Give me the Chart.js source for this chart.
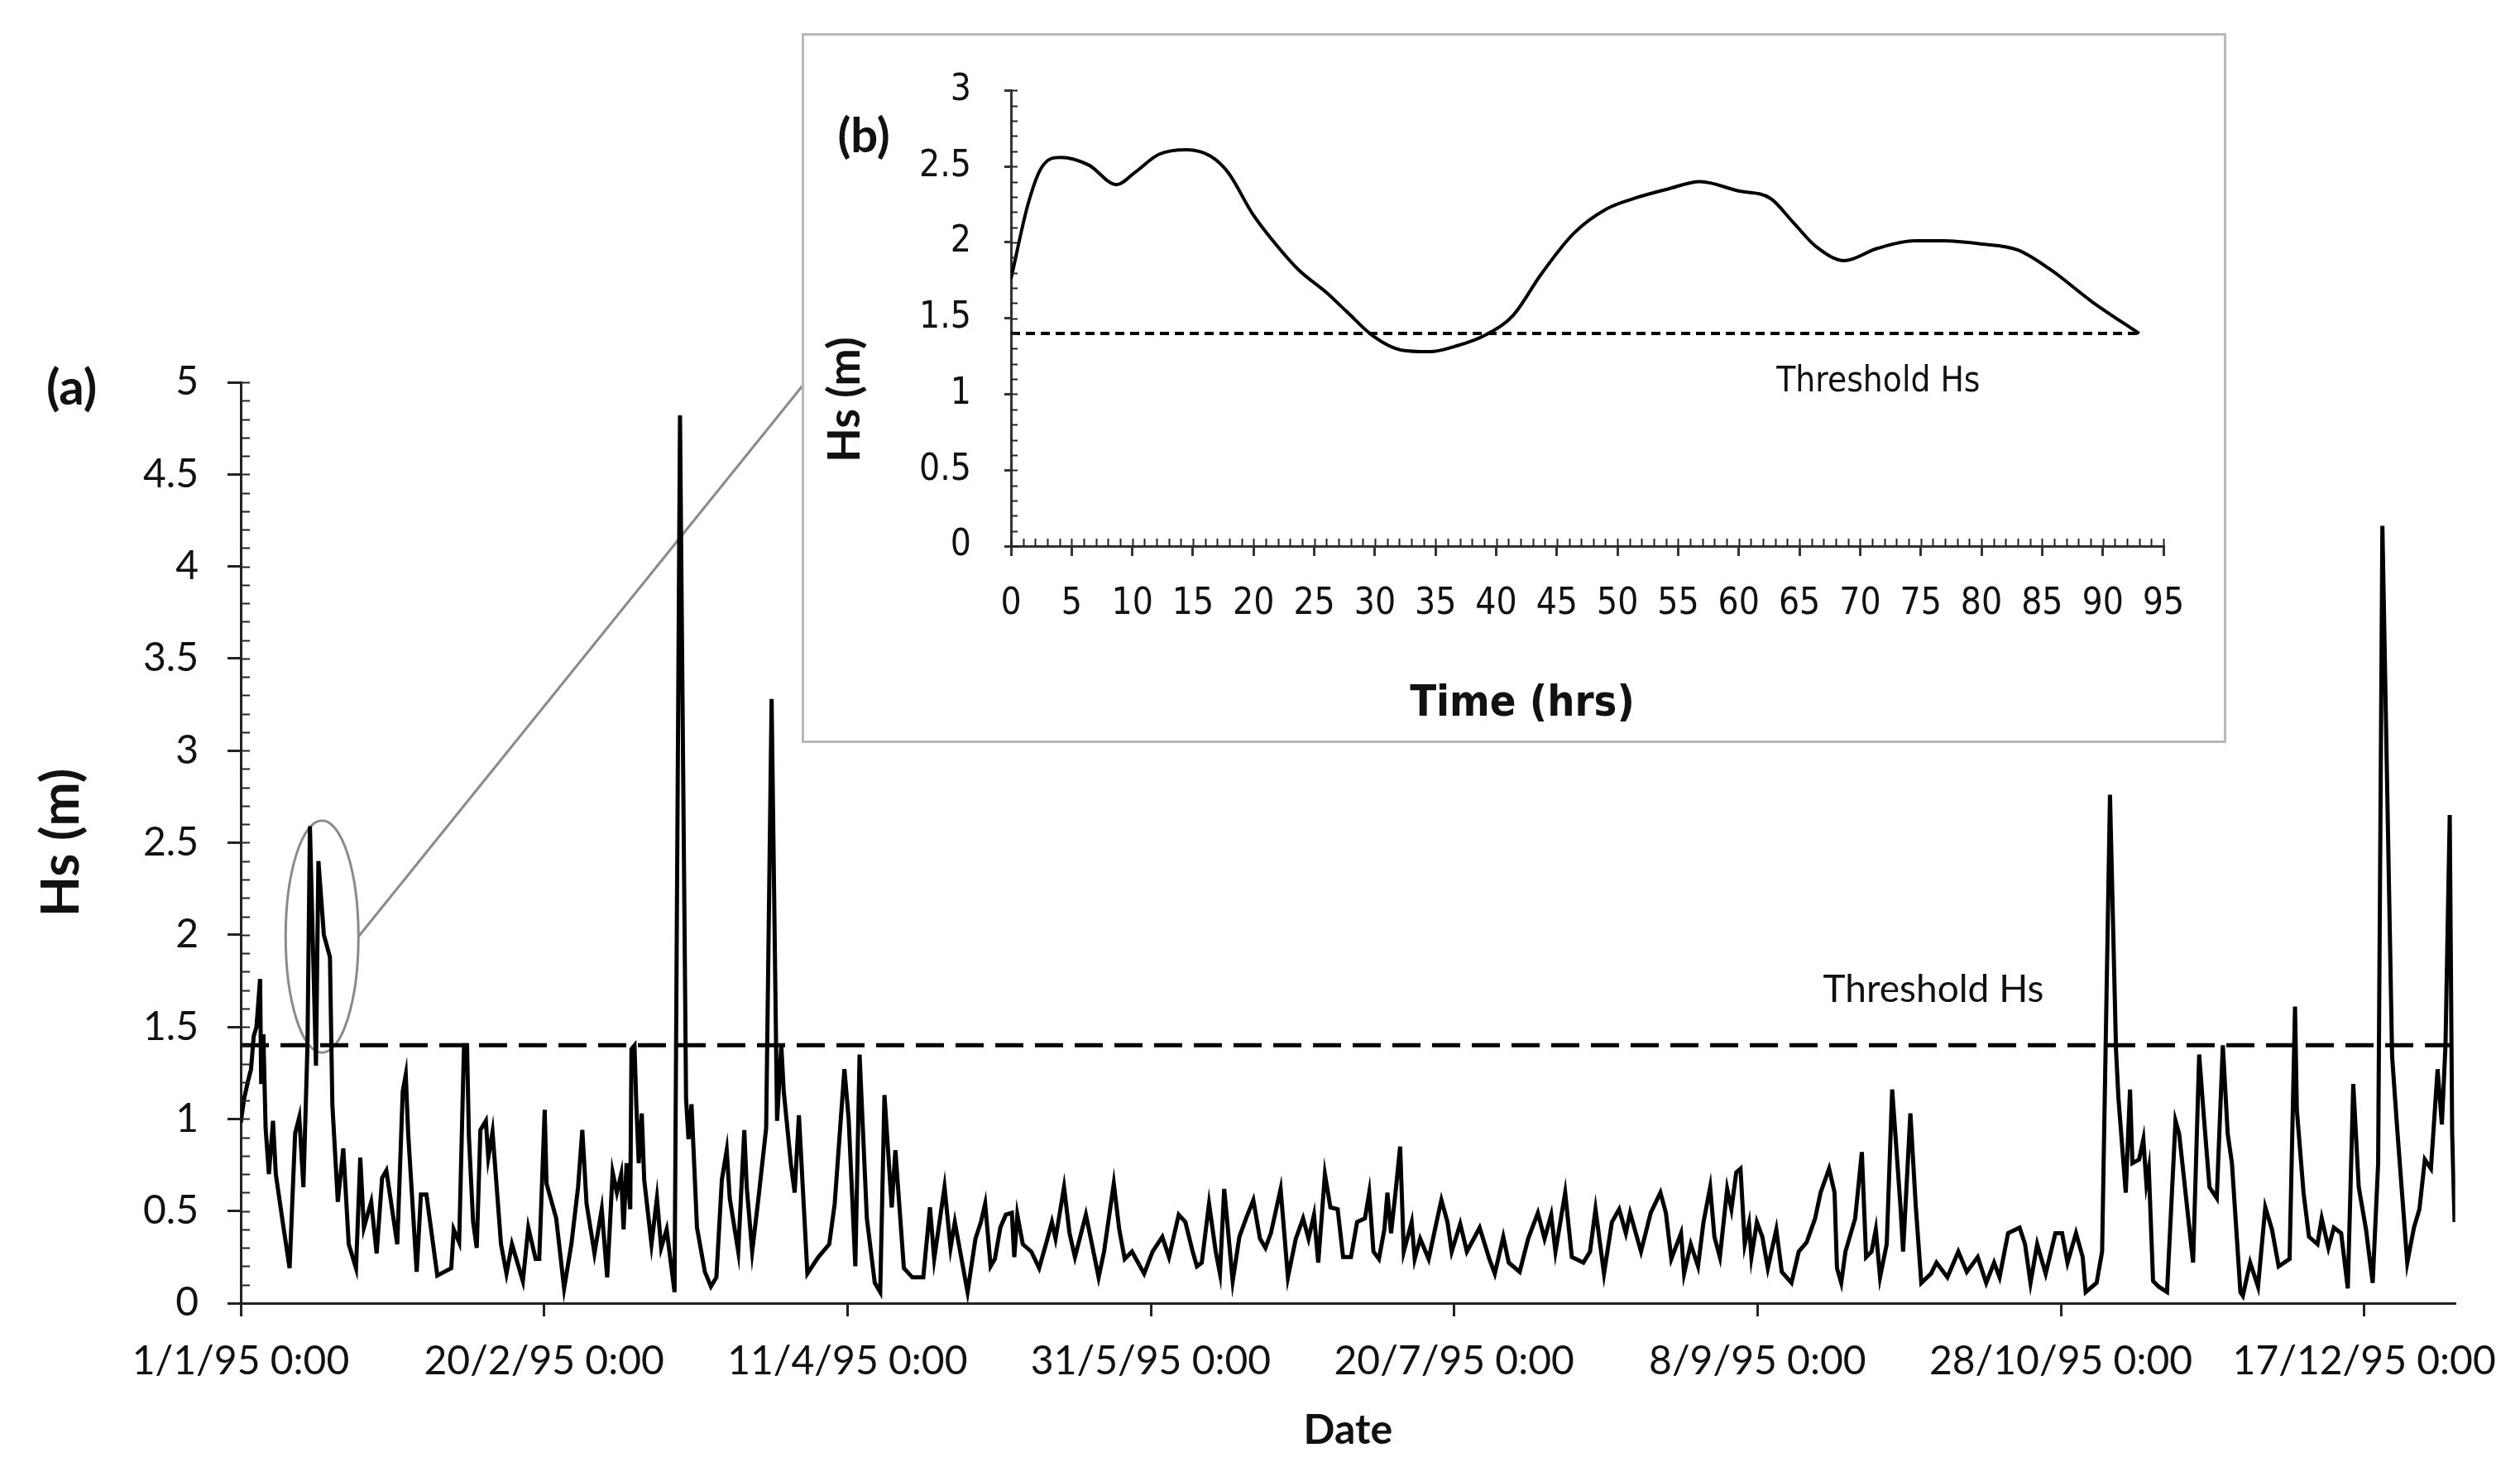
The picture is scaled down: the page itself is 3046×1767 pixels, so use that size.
<!DOCTYPE html>
<html>
<head>
<meta charset="utf-8">
<script src="https://cdn.jsdelivr.net/npm/chart.js@4.4.1/dist/chart.umd.min.js"></script>
<style>
  html, body { margin: 0; padding: 0; background: #fff; }
  #wrap { position: relative; width: 3046px; height: 1767px; overflow: hidden; }
  #main { position: absolute; left: 0; top: 0; }
  #insetBox { position: absolute; left: 969px; top: 40px; width: 1722px; height: 858px;
              border: 3px solid #b8b8b8; box-sizing: border-box; background: #fff; }
</style>
</head>
<body>
<div id="wrap">
  <canvas id="main" width="3046" height="1767"></canvas>
  <div id="insetBox"><canvas id="inset" width="1716" height="852"></canvas></div>
</div>
<script>
// (a) hourly Hs for 1995 at turning points (x = days since 1/1/95)
var hsDay = [
  0, 0.55, 1.23, 1.69, 2.14, 2.59, 3.19, 3.37, 3.73, 4.1, 4.64, 5.32, 5.78, 6.92, 8.05, 8.96, 9.65, 10.33,
  11.0, 11.4, 12.4, 12.8, 13.7, 14.7, 15.1, 16.0, 16.9, 17.8, 19.0, 19.7, 20.3, 21.5, 22.4, 23.3, 24.0,
  25.8, 26.7, 27.2, 27.6, 29.0, 29.7, 30.6, 32.4, 34.7, 35.1, 36.0, 36.8, 37.3, 37.6, 38.3, 38.9, 39.5,
  40.4, 40.8, 41.5, 42.9, 43.8, 44.7, 46.5, 47.4, 48.6, 49.2, 50.1, 50.4, 52.0, 53.3, 54.5, 55.6, 56.3,
  57.0, 58.3, 59.5, 60.4, 61.3, 62.0, 62.7, 63.1, 63.6, 64.2, 64.4, 64.9, 65.2, 65.6, 66.1, 66.5, 67.7,
  68.6, 69.3, 70.2, 71.5, 72.4, 73.4, 73.8, 74.3, 75.2, 76.5, 77.5, 78.4, 79.3, 80.1, 80.6, 82.0, 83.0,
  83.4, 84.3, 85.4, 86.6, 87.5, 88.4, 89.1, 89.5, 90.7, 91.3, 92.0, 93.4, 95.2, 97.0, 97.9, 99.5, 100.2,
  101.3, 102.0, 103.2, 104.5, 105.4, 106.1, 107.3, 107.9, 109.3, 110.7, 112.5, 113.6, 114.3, 116.0, 117.0,
  117.7, 119.8, 121.1, 122.0, 122.7, 123.6, 124.3, 125.2, 126.1, 127.1, 127.5, 128.0, 128.9, 130.3, 131.6,
  132.8, 133.7, 134.3, 135.7, 136.6, 137.5, 139.3, 140.3, 141.4, 142.3, 143.9, 144.8, 145.7, 146.9, 148.9,
  150.3, 151.9, 153.0, 154.6, 155.7, 156.9, 157.6, 158.4, 159.6, 160.7, 161.4, 162.1, 163.5, 164.6, 165.7,
  166.9, 168.0, 168.9, 169.8, 171.4, 172.6, 173.9, 175.1, 176.0, 176.9, 177.6, 178.7, 179.6, 180.8, 181.7,
  183.0, 184.0, 185.3, 186.0, 186.7, 187.6, 188.5, 189.0, 189.6, 190.3, 191.1, 191.7, 193.0, 193.5, 194.4,
  195.8, 197.1, 197.9, 198.9, 199.6, 201.0, 202.1, 204.2, 205.8, 206.7, 208.1, 209.0, 210.8, 212.2, 213.8,
  214.9, 216.0, 216.7, 218.3, 219.4, 221.3, 222.4, 223.3, 224.7, 226.0, 227.2, 228.3, 229.0, 230.8, 232.4,
  234.0, 234.9, 235.8, 237.4, 237.9, 239.0, 240.2, 241.1, 242.2, 242.9, 243.8, 245.0, 245.7, 246.5, 247.2,
  247.9, 248.6, 249.0, 249.9, 250.8, 251.7, 253.1, 254.0, 255.6, 256.8, 258.1, 259.5, 260.4, 261.8, 262.7,
  263.1, 263.8, 264.5, 266.1, 267.2, 267.9, 268.8, 269.5, 270.2, 271.3, 272.2, 273.6, 274.0, 275.2, 276.1,
  277.0, 278.6, 279.5, 281.3, 283.1, 284.5, 286.3, 287.7, 289.0, 289.9, 291.3, 293.2, 294.1, 295.0, 296.1,
  297.5, 299.1, 300.2, 301.1, 302.5, 303.6, 304.1, 305.9, 306.8, 308.1, 309.1, 309.5, 310.7, 311.4, 311.8,
  312.9, 313.6, 314.1, 314.5, 315.2, 316.1, 317.5, 318.9, 319.5, 321.8, 322.8, 323.6, 324.5, 325.7, 326.7,
  327.5, 328.2, 329.6, 330.0, 331.2, 332.5, 333.7, 334.8, 335.9, 337.7, 338.6, 338.9, 340.0, 340.9, 342.3,
  343.0, 344.1, 345.0, 346.2, 347.3, 348.2, 349.1, 350.3, 351.4, 352.3, 353.0, 354.6, 355.5, 357.1, 358.2,
  359.1, 360.0, 361.0, 362.1, 362.8, 363.4, 364.1, 364.5, 364.9
];
var hsValue = [
  0.98, 1.11, 1.21, 1.27, 1.45, 1.50, 1.76, 1.19, 1.46, 0.95, 0.70, 0.99, 0.70, 0.44, 0.19, 0.92, 1.01, 0.63,
  1.40, 2.59, 1.29, 2.40, 2.00, 1.88, 1.08, 0.55, 0.84, 0.32, 0.19, 0.79, 0.41, 0.55, 0.27, 0.68, 0.72,
  0.32, 1.15, 1.24, 0.92, 0.17, 0.59, 0.59, 0.15, 0.19, 0.40, 0.33, 1.40, 1.40, 0.91, 0.44, 0.30, 0.94,
  0.99, 0.79, 0.93, 0.32, 0.16, 0.32, 0.12, 0.41, 0.24, 0.24, 1.05, 0.65, 0.46, 0.08, 0.32, 0.63, 0.94,
  0.54, 0.27, 0.51, 0.14, 0.71, 0.60, 0.70, 0.40, 0.76, 0.51, 1.38, 1.40, 1.08, 0.76, 1.03, 0.67, 0.32,
  0.57, 0.30, 0.40, 0.06, 4.82, 1.11, 0.89, 1.08, 0.41, 0.17, 0.09, 0.14, 0.67, 0.83, 0.57, 0.28, 0.94,
  0.63, 0.28, 0.59, 0.95, 3.28, 0.99, 1.40, 1.15, 0.75, 0.60, 1.02, 0.16, 0.25, 0.32, 0.54, 1.27, 1.00,
  0.20, 1.35, 0.46, 0.11, 0.06, 1.13, 0.52, 0.83, 0.19, 0.14, 0.14, 0.52, 0.24, 0.63, 0.30,
  0.44, 0.06, 0.35, 0.44, 0.54, 0.20, 0.24, 0.41, 0.48, 0.49, 0.25, 0.48, 0.32, 0.28, 0.19,
  0.33, 0.44, 0.35, 0.63, 0.38, 0.25, 0.48, 0.32, 0.14, 0.28, 0.65, 0.40, 0.24, 0.28, 0.16,
  0.28, 0.36, 0.25, 0.48, 0.44, 0.28, 0.20, 0.22, 0.54, 0.28, 0.16, 0.62, 0.12, 0.36, 0.46,
  0.56, 0.35, 0.30, 0.38, 0.62, 0.14, 0.35, 0.46, 0.35, 0.48, 0.22, 0.70, 0.52, 0.51, 0.25,
  0.25, 0.44, 0.46, 0.60, 0.28, 0.24, 0.40, 0.60, 0.38, 0.59, 0.85, 0.28, 0.44, 0.24, 0.35,
  0.24, 0.44, 0.56, 0.44, 0.28, 0.43, 0.28, 0.41, 0.24, 0.16, 0.36, 0.22, 0.17, 0.35, 0.49,
  0.35, 0.48, 0.28, 0.60, 0.25, 0.22, 0.28, 0.51, 0.16, 0.44, 0.51, 0.38, 0.49, 0.28, 0.49,
  0.60, 0.49, 0.24, 0.38, 0.16, 0.32, 0.20, 0.44, 0.63, 0.36, 0.25, 0.62, 0.51, 0.71, 0.73,
  0.32, 0.43, 0.25, 0.44, 0.36, 0.19, 0.40, 0.17, 0.11, 0.28, 0.33, 0.46, 0.60, 0.73, 0.60,
  0.19, 0.11, 0.28, 0.46, 0.82, 0.25, 0.28, 0.40, 0.14, 0.32, 1.16, 0.51, 0.28, 1.03, 0.52,
  0.11, 0.16, 0.22, 0.14, 0.28, 0.17, 0.25, 0.11, 0.22, 0.14, 0.38, 0.41, 0.32, 0.11, 0.32,
  0.16, 0.38, 0.38, 0.22, 0.38, 0.25, 0.06, 0.11, 0.28, 2.76, 1.37, 1.11, 0.60, 1.16, 0.76,
  0.78, 0.89, 0.65, 0.73, 0.12, 0.09, 0.06, 0.99, 0.92, 0.22, 1.35, 1.00, 0.63, 0.57, 1.40,
  0.92, 0.76, 0.06, 0.04, 0.22, 0.09, 0.52, 0.40, 0.20, 0.24, 1.61, 1.05, 0.60, 0.36, 0.32,
  0.46, 0.30, 0.41, 0.38, 0.08, 1.19, 0.63, 0.40, 0.11, 0.76, 4.22, 1.34, 0.92, 0.22, 0.41,
  0.51, 0.78, 0.73, 1.27, 0.97, 1.40, 2.65, 0.92, 0.44
];
var dateTickLabels = ['1/1/95 0:00', '20/2/95 0:00', '11/4/95 0:00', '31/5/95 0:00',
                      '20/7/95 0:00', '8/9/95 0:00', '28/10/95 0:00', '17/12/95 0:00'];
var daysInYear = 365;
var thresholdHs = 1.4;

// (b) zoom on the first storm, hours from its start
var stormHour = [0, 1.4, 2.5, 4.1, 6.4, 8.7, 10.2, 12.2, 14.5, 16.4, 17.9, 19.9, 21.4, 23.7, 26.0, 27.6,
                 29.9, 32.2, 34.5, 36.8, 39.1, 41.4, 43.7, 46.4, 49.1, 51.4, 54.1, 56.8, 59.9, 62.6,
                 64.5, 66.4, 68.7, 71.4, 74.5, 76.8, 79.9, 83.0, 85.7, 89.1, 93.0];
var stormHs = [1.76, 2.25, 2.49, 2.56, 2.51, 2.38, 2.46, 2.58, 2.61, 2.57, 2.46, 2.19, 2.03, 1.82, 1.67, 1.55,
               1.38, 1.29, 1.28, 1.32, 1.39, 1.52, 1.79, 2.06, 2.22, 2.29, 2.35, 2.40, 2.34, 2.29,
               2.13, 1.97, 1.88, 1.96, 2.01, 2.01, 1.99, 1.95, 1.82, 1.61, 1.40];

var FONT = 'Lato, "Open Sans", sans-serif';
var NARROW = '"Liberation Sans Narrow", "DejaVu Sans Condensed", Lato, sans-serif';
Chart.defaults.font.family = FONT;
Chart.defaults.color = '#111';

function toPoints(xs, ys) {
  return xs.map(function(x, i) { return {x: x, y: ys[i]}; });
}

// Excel style: 5, 4.5, 4 ... no trailing zero
function plainNumber(v) {
  return String(Math.round(v * 10) / 10);
}

// small inner ticks between the labelled ones
function minorTicks(chart, id, step, len) {
  var s = chart.scales[id], ctx = chart.ctx, a = chart.chartArea;
  ctx.save();
  ctx.strokeStyle = '#222';
  ctx.lineWidth = 2;
  ctx.beginPath();
  for (var v = s.min; v <= s.max + 1e-9; v += step) {
    var p = Math.round(s.getPixelForValue(v)) + 0.5;
    if (s.isHorizontal()) { ctx.moveTo(p, a.bottom); ctx.lineTo(p, a.bottom - len); }
    else { ctx.moveTo(a.left, p); ctx.lineTo(a.left + len, p); }
  }
  ctx.stroke();
  ctx.restore();
}

var mainExtras = {
  id: 'mainExtras',
  beforeDatasetsDraw: function(chart) {
    var ctx = chart.ctx, x = chart.scales.x, y = chart.scales.y;
    // ellipse round the first storm and the line out to panel (b)
    var cx = x.getPixelForValue(13.4), rx = x.getPixelForValue(19.4) - cx;
    var cy = y.getPixelForValue(1.99), ry = cy - y.getPixelForValue(2.62);
    var box = document.getElementById('insetBox');
    ctx.save();
    ctx.strokeStyle = '#8a8a8a';
    ctx.lineWidth = 3;
    ctx.beginPath();
    ctx.ellipse(cx, cy, rx, ry, 0, 0, Math.PI * 2);
    ctx.stroke();
    ctx.beginPath();
    ctx.moveTo(cx + rx, cy);
    ctx.lineTo(box.offsetLeft + 2, y.getPixelForValue(5) + 3);
    ctx.stroke();
    ctx.restore();
  },
  afterDraw: function(chart) {
    var ctx = chart.ctx, x = chart.scales.x, y = chart.scales.y;
    minorTicks(chart, 'y', 0.1, 11);
    ctx.save();
    ctx.fillStyle = '#111';
    ctx.textAlign = 'center';
    ctx.textBaseline = 'middle';
    ctx.font = '46px ' + FONT;
    ctx.fillText('Threshold Hs', x.getPixelForValue(279), y.getPixelForValue(1.70));
    ctx.font = 'bold 60px ' + FONT;
    ctx.textAlign = 'left';
    ctx.fillText('(a)', 56, y.getPixelForValue(5) + 8);
    ctx.restore();
  }
};

new Chart(document.getElementById('main'), {
  type: 'line',
  data: {
    datasets: [
      { data: toPoints(hsDay, hsValue), borderColor: '#000', borderWidth: 5, pointRadius: 0,
        tension: 0, order: 1 },
      { data: [{x: 0, y: thresholdHs}, {x: daysInYear, y: thresholdHs}], borderColor: '#000',
        borderWidth: 5, borderDash: [34, 14], pointRadius: 0, order: 2 }
    ]
  },
  options: {
    responsive: false,
    animation: false,
    devicePixelRatio: 1,
    layout: { padding: { top: 462, right: 78, left: 0, bottom: 0 } },
    plugins: { legend: { display: false }, tooltip: { enabled: false } },
    scales: {
      x: {
        type: 'linear', min: 0, max: daysInYear,
        afterFit: function(s) { s.height = 192; },
        ticks: { stepSize: 50, includeBounds: false, autoSkip: false, maxRotation: 0, padding: 26,
                 font: { size: 48 }, callback: function(v) { return dateTickLabels[Math.round(v / 50)]; } },
        grid: { drawOnChartArea: false, color: '#222', lineWidth: 3, tickLength: 16 },
        border: { color: '#222', width: 3 },
        title: { display: true, text: 'Date', font: { size: 50, weight: 'bold' }, padding: { bottom: 8 } }
      },
      y: {
        min: 0, max: 5,
        afterFit: function(s) { s.width = 291; },
        ticks: { stepSize: 0.5, padding: 35, font: { size: 48 }, callback: plainNumber },
        grid: { drawOnChartArea: false, color: '#222', lineWidth: 3, tickLength: 16 },
        border: { color: '#222', width: 3 },
        title: { display: true, text: 'Hs (m)', font: { size: 64, weight: 'bold' }, padding: { top: 36 } }
      }
    }
  },
  plugins: [mainExtras]
});

var insetExtras = {
  id: 'insetExtras',
  afterDraw: function(chart) {
    var ctx = chart.ctx, x = chart.scales.x, y = chart.scales.y;
    minorTicks(chart, 'x', 1, 9);
    minorTicks(chart, 'y', 0.1, 8);
    ctx.save();
    ctx.fillStyle = '#111';
    ctx.textAlign = 'center';
    ctx.textBaseline = 'middle';
    ctx.font = '42px ' + NARROW;
    ctx.fillText('Threshold Hs', x.getPixelForValue(71.5), y.getPixelForValue(1.08));
    ctx.font = 'bold 52px ' + NARROW;
    ctx.fillText('Time (hrs)', 868, 808);
    ctx.font = 'bold 58px ' + FONT;
    ctx.fillText('(b)', 72, 122);
    ctx.translate(50, 440);
    ctx.rotate(-Math.PI / 2);
    ctx.font = 'bold 54px ' + FONT;
    ctx.fillText('Hs (m)', 0, 0);
    ctx.restore();
  }
};

new Chart(document.getElementById('inset'), {
  type: 'line',
  data: {
    datasets: [
      { data: toPoints(stormHour, stormHs), borderColor: '#000', borderWidth: 4, pointRadius: 0,
        cubicInterpolationMode: 'monotone', order: 1 },
      { data: [{x: 0, y: thresholdHs}, {x: stormHour[stormHour.length - 1], y: thresholdHs}],
        borderColor: '#000', borderWidth: 4, borderDash: [11, 7], pointRadius: 0, order: 2 }
    ]
  },
  options: {
    responsive: false,
    animation: false,
    devicePixelRatio: 1,
    layout: { padding: { top: 47, right: 73, left: 0, bottom: 0 } },
    plugins: { legend: { display: false }, tooltip: { enabled: false } },
    scales: {
      x: {
        type: 'linear', min: 0, max: 95,
        afterFit: function(s) { s.height = 235; },
        ticks: { stepSize: 5, autoSkip: false, maxRotation: 0, padding: 32, font: { size: 44, family: NARROW } },
        grid: { drawOnChartArea: false, color: '#333', lineWidth: 3, tickLength: 12 },
        border: { color: '#333', width: 3 }
      },
      y: {
        min: 0, max: 3,
        afterFit: function(s) { s.width = 250; },
        ticks: { stepSize: 0.5, padding: 40, font: { size: 44, family: NARROW }, callback: plainNumber },
        grid: { drawOnChartArea: false, color: '#333', lineWidth: 3, tickLength: 8 },
        border: { color: '#333', width: 3 }
      }
    }
  },
  plugins: [insetExtras]
});
</script>
</body>
</html>
